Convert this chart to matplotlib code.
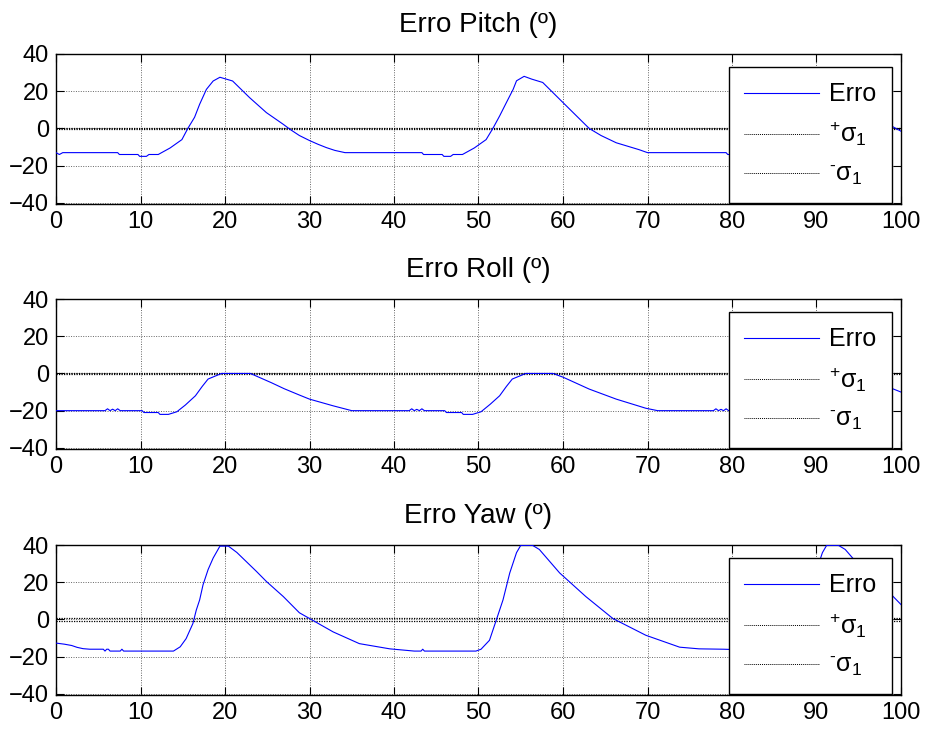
import matplotlib
matplotlib.use('Agg')
import matplotlib.pyplot as plt
from matplotlib.lines import Line2D

plt.rcParams['font.family'] = ['Liberation Sans', 'DejaVu Sans']
plt.rcParams['mathtext.fontset'] = 'custom'
plt.rcParams['mathtext.rm'] = 'Liberation Sans'
plt.rcParams['mathtext.it'] = 'Liberation Sans'
plt.rcParams['mathtext.bf'] = 'Liberation Sans:bold'

titles = ['Erro Pitch (º)', 'Erro Roll (º)', 'Erro Yaw (º)']
legend_labels = ['Erro', r'$^{+}\sigma_{1}$', r'$^{‐}\sigma_{1}$']
x_ticks = [0, 10, 20, 30, 40, 50, 60, 70, 80, 90, 100]
y_ticks = [-40, -20, 0, 20, 40]

pitch_t = [0, 0.4, 0.8, 7.3, 7.5, 9.7, 9.9, 10.7, 11.0, 12.1, 13.5, 14.9, 15.6, 16.4, 17.0,
           17.8, 18.6, 19.4, 20.9, 22.9, 24.9, 26.9, 27.7, 28.8, 30.0, 31.0, 32.0, 33.0, 34.2,
           43.3, 43.5, 45.7, 45.9, 46.7, 47.0, 48.1, 49.5, 50.9, 51.7, 52.5, 53.3, 54.1, 54.5,
           55.4, 56.3, 57.6, 60.0, 63.1, 64.5, 66.3, 69.0, 70.0,
           79.3, 79.5, 81.7, 81.9, 82.7, 83.0, 84.1, 85.5, 86.9, 87.6, 88.4, 89.0, 89.8, 90.6,
           91.4, 92.9, 94.9, 96.9, 98.6, 100.0]
pitch_v = [-13, -14, -13, -13, -14, -14, -15, -15, -14, -14, -10.5, -6, 0, 6, 13,
           21, 25.5, 27.5, 25.5, 16.6, 8.5, 2.2, -0.5, -3.8, -6.5, -8.5, -10.3, -11.8, -13,
           -13, -14, -14, -15, -15, -14, -14, -10.5, -6, 0, 6.7, 13.9, 21, 25.6,
           28, 26.5, 24.7, 13.9, 0, -3.8, -7.7, -11.4, -13,
           -13, -14, -14, -15, -15, -14, -14, -10.5, -6, 0, 6, 13, 21, 25.5,
           27.5, 25.5, 16.6, 8.5, 2, -1.5]

roll_t = [0, 5.8, 6.1, 6.4, 6.7, 7.0, 7.3, 7.6, 10.2, 10.4, 12.1, 12.3, 13.3, 14.3, 15.3,
          16.5, 17.3, 18.0, 18.8, 19.6, 23.0, 24.0, 25.5, 27.0, 28.8, 30.0, 32.8, 35.0,
          41.8, 42.1, 42.4, 42.7, 43.0, 43.3, 43.6, 44.2, 46.0, 46.2, 48.0, 48.2, 49.3, 50.3,
          51.4, 52.5, 53.3, 54.0, 54.8, 55.6, 58.8, 60.0, 63.1, 66.3, 69.8, 71.2,
          77.8, 78.1, 78.4, 78.7, 79.0, 79.3, 79.6, 80.2, 82.0, 82.2, 84.0, 84.2, 85.3, 86.3,
          87.4, 88.5, 89.3, 90.0, 90.8, 91.6, 94.8, 96.0, 97.2, 98.5, 100.0]
roll_v = [-20, -20, -19, -20, -19.2, -20, -19, -20, -20, -21, -21, -22, -22, -20.6, -17,
          -12, -7, -3, -1.5, 0, 0, -2, -5, -8.2, -11.6, -13.8, -17.4, -20,
          -20, -19, -20, -19.3, -20, -19, -20, -20, -20, -21, -21, -22, -22, -20.6,
          -16.5, -12, -7, -3, -1.5, 0, 0, -2, -8.4, -13.8, -18.7, -20,
          -20, -19, -20, -19.3, -20, -19, -20, -20, -20, -21, -21, -22, -22, -20.6,
          -16.5, -12, -7, -3, -1.5, 0, 0, -2, -4.5, -7.3, -10]

yaw_t = [0, 0.5, 1.0, 1.85, 2.5, 3.2, 4.0, 5.6, 5.8, 6.0, 6.2, 6.4, 7.6, 7.8, 8.0,
         13.9, 14.7, 15.4, 16.2, 16.6, 17.0, 17.4, 18.0, 18.6, 19.4, 20.4, 21.4, 23.7, 24.9,
         26.9, 28.8, 30.0, 32.8, 35.9, 39.5, 42.4, 43.2, 43.4, 43.6, 49.7, 50.3, 51.3, 52.1,
         52.9, 53.7, 54.5, 55.0, 56.4, 57.2, 59.6, 62.7, 65.9, 69.8, 73.8, 76.1, 79.0,
         85.9, 86.5, 87.5, 88.3, 89.1, 89.9, 90.7, 91.2, 92.6, 93.4, 95.8, 98.5, 100.0]
yaw_v = [-12.7, -13, -13.3, -14, -15, -15.7, -16, -16, -17, -16, -16, -17, -17, -16, -17,
         -17, -14.7, -10.3, -2.2, 5, 10.5, 18.6, 26.8, 33, 39.4, 39.4, 36, 25.9, 20.4,
         12.3, 3.6, 0.5, -6.7, -13, -15.8, -17, -17, -16, -17, -17, -16, -11.2, -0.4,
         10.5, 25, 35.9, 39.8, 39.8, 37.6, 25, 12.3, 0.5, -8.5, -14.9, -15.8, -16,
         -17, -16, -11.2, -0.4, 10.5, 25, 35.9, 39.8, 39.8, 37.6, 25, 15, 8]

sigma_values = [0.5, 0.5, 0.65]

series = [(pitch_t, pitch_v), (roll_t, roll_v), (yaw_t, yaw_v)]

fig = plt.figure(figsize=(9.27, 7.31), dpi=100)
W, H = 927, 731
left_px, right_px = 56, 901
tops = [54, 299, 545]
height_px = 150

for i, ((t, v), title, sig) in enumerate(zip(series, titles, sigma_values)):
    rect = [left_px / W, 1 - (tops[i] + height_px) / H, (right_px - left_px) / W, height_px / H]
    ax = fig.add_axes(rect)
    ax.plot(t, v, color=(0, 0, 1), lw=0.8, zorder=3)
    ax.axhline(sig, color='black', lw=0.9, ls=(0, (1, 1)), zorder=2)
    ax.axhline(-sig, color='black', lw=0.9, ls=(0, (1, 1)), zorder=2)
    ax.set_xlim(0, 100)
    ax.set_ylim(-40.6, 40)
    ax.set_xticks(x_ticks)
    ax.set_yticks(y_ticks)
    ax.grid(True, color='0.4', ls=(0, (1, 1.5)), lw=0.7)
    ax.tick_params(direction='in', length=6, width=0.8, top=True, right=True,
                   labelsize=17, pad=5, colors='black')
    for s in ax.spines.values():
        s.set_linewidth(1.0)
        s.set_color('black')
    ax.set_title(title, fontsize=20, pad=16)
    handles = [Line2D([], [], color=(0, 0, 1), lw=0.8),
               Line2D([], [], color='black', lw=0.7, ls=(0, (1, 1))),
               Line2D([], [], color='black', lw=0.7, ls=(0, (1, 1)))]
    leg = ax.legend(handles, legend_labels, loc='upper left', bbox_to_anchor=(0.796, 0.915),
                    borderaxespad=0, frameon=True, fancybox=False, framealpha=1,
                    edgecolor='black', fontsize=18, handlelength=3.0, handletextpad=0.4,
                    labelspacing=0.55, borderpad=0.62)
    leg.get_frame().set_linewidth(1.0)
    leg.set_zorder(10)

fig.savefig('out.png', dpi=100)
